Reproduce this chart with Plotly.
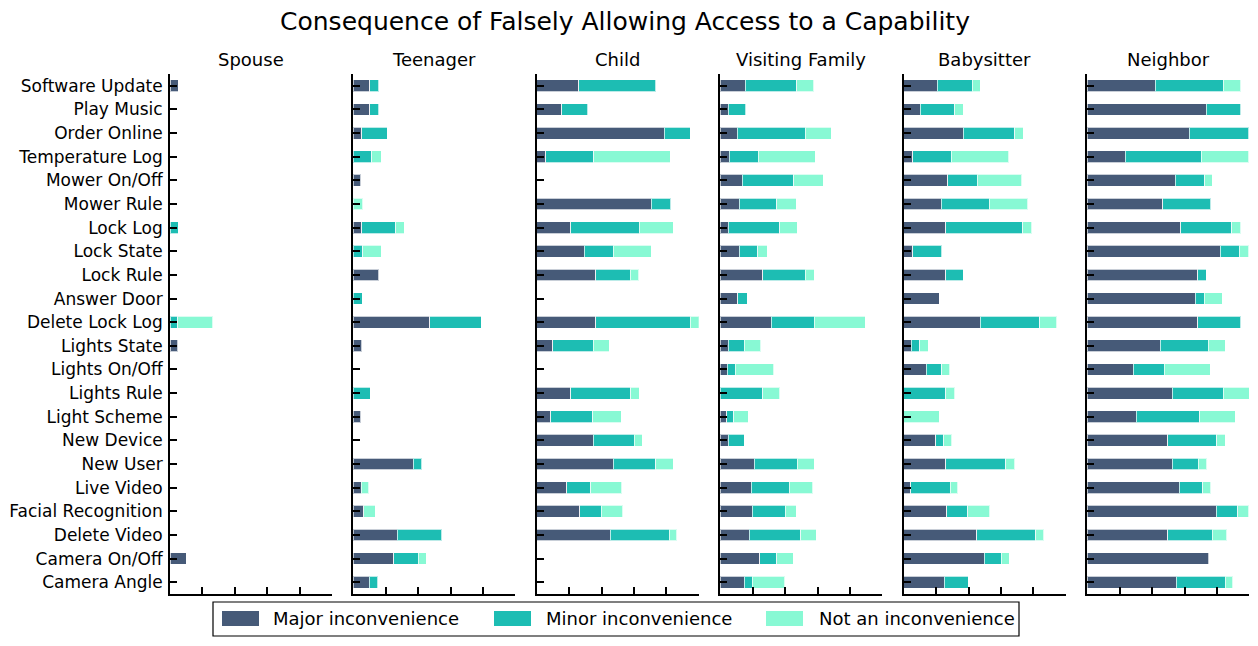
import plotly.graph_objects as go

# page has an 8px body margin: figure covers reference pixels 8..1250 x 8..638
OFF = 8
W, H = 1242, 630

categories = ["Software Update", "Play Music", "Order Online", "Temperature Log",
              "Mower On/Off", "Mower Rule", "Lock Log", "Lock State", "Lock Rule",
              "Answer Door", "Delete Lock Log", "Lights State", "Lights On/Off",
              "Lights Rule", "Light Scheme", "New Device", "New User", "Live Video",
              "Facial Recognition", "Delete Video", "Camera On/Off", "Camera Angle"]

groups = ["Spouse", "Teenager", "Child", "Visiting Family", "Babysitter", "Neighbor"]
levels = ["Major inconvenience", "Minor inconvenience", "Not an inconvenience"]
colors = ["#465a78", "#1dbdb3", "#88f9d4"]

# percent of respondents, order as in categories
spouse_major = [5.1, 0, 0, 0, 0, 0, 0, 0, 0, 0, 0, 4.8, 0, 0, 0, 0, 0, 0, 0, 0, 9.9, 0]
spouse_minor = [0, 0, 0, 0, 0, 0, 5.1, 0, 0, 0, 4.8, 0, 0, 0, 0, 0, 0, 0, 0, 0, 0, 0]
spouse_not = [0, 0, 0, 0, 0, 0, 0, 0, 0, 0, 21.6, 0, 0, 0, 0, 0, 0, 0, 0, 0, 0, 0]

teen_major = [10.3, 10.3, 5.1, 0, 4.5, 0, 5.1, 0, 15.6, 0, 47.3, 5.1, 0, 0, 4.5, 0, 36.9, 4.8, 6.6, 27.2, 24.9, 9.9]
teen_minor = [5.3, 5.3, 15.9, 11.5, 0, 0, 21.2, 5.7, 0, 5.4, 31.7, 0, 0, 10.5, 0, 0, 5.3, 0, 0, 27.3, 15.1, 5.1]
teen_not = [0, 0, 0, 5.9, 0, 5.7, 5.1, 11.7, 0, 0, 0, 0, 0, 0, 0, 0, 0, 4.7, 6.8, 0, 5.1, 0]

child_major = [26.1, 15.6, 78.8, 5.7, 0, 70.6, 21.0, 29.2, 36.6, 0, 36.6, 9.9, 0, 21.0, 8.6, 34.8, 47.1, 18.7, 26.7, 45.5, 0, 0]
child_minor = [47.5, 15.9, 16.0, 29.6, 0, 12.0, 42.2, 17.9, 21.2, 0, 58.3, 24.9, 0, 36.9, 26.1, 25.3, 26.5, 14.6, 13.2, 36.2, 0, 0]
child_not = [0, 0, 0, 47.2, 0, 0, 21.0, 23.5, 5.3, 0, 5.3, 10.1, 0, 5.3, 17.5, 4.9, 10.7, 19.1, 13.3, 4.9, 0, 0]

visit_major = [15.4, 4.8, 10.5, 5.4, 13.6, 11.7, 4.8, 11.7, 26.1, 10.9, 31.5, 4.8, 4.3, 0, 4.1, 4.8, 21.0, 19.0, 19.8, 17.9, 24.5, 14.8]
visit_minor = [31.9, 10.9, 42.0, 17.9, 31.7, 23.3, 31.9, 11.5, 26.4, 5.6, 26.4, 10.1, 4.9, 26.1, 4.3, 10.1, 26.4, 23.6, 20.4, 31.9, 10.5, 4.9]
visit_not = [10.5, 0, 15.9, 35.4, 18.3, 11.9, 10.7, 5.9, 5.4, 0, 31.5, 10.1, 23.9, 10.7, 8.8, 0, 10.5, 14.6, 6.6, 9.3, 9.9, 20.2]

baby_major = [20.8, 10.1, 36.9, 5.7, 27.2, 23.3, 26.1, 5.7, 26.1, 22.0, 47.3, 4.8, 14.0, 0, 0, 19.9, 26.1, 4.5, 26.5, 45.2, 49.6, 25.1]
baby_minor = [21.4, 21.4, 31.5, 23.5, 18.1, 29.4, 47.5, 17.7, 10.7, 0, 36.8, 5.1, 9.6, 26.1, 0, 4.9, 37.0, 24.1, 13.1, 36.4, 10.5, 14.8]
baby_not = [5.2, 5.4, 5.3, 35.6, 27.6, 23.9, 5.4, 0, 0, 0, 10.5, 5.1, 4.9, 5.4, 21.8, 4.9, 5.4, 4.8, 13.6, 4.8, 4.9, 0]

neigh_major = [42.0, 73.5, 62.8, 23.3, 54.3, 46.7, 57.8, 82.1, 68.3, 66.5, 68.3, 44.9, 28.4, 52.5, 30.1, 49.8, 52.5, 56.8, 79.6, 49.8, 74.9, 54.8]
neigh_minor = [42.0, 21.2, 37.0, 47.1, 18.3, 29.6, 31.5, 11.7, 5.1, 5.6, 26.3, 29.8, 19.0, 31.5, 39.3, 30.0, 15.9, 14.6, 13.4, 27.3, 0, 30.2]
neigh_not = [10.7, 0, 0, 29.4, 4.5, 0, 5.3, 6.0, 0, 11.1, 0, 10.3, 28.4, 15.9, 21.9, 5.2, 5.3, 4.7, 6.8, 9.1, 0, 4.9]

panel_data = [
    (spouse_major, spouse_minor, spouse_not),
    (teen_major, teen_minor, teen_not),
    (child_major, child_minor, child_not),
    (visit_major, visit_minor, visit_not),
    (baby_major, baby_minor, baby_not),
    (neigh_major, neigh_minor, neigh_not),
]

FONT = "DejaVu Sans"


def px(x):
    return (x - OFF) / W


def py(y):
    return 1 - (y - OFF) / H


panel_px = [(170, 332), (353.3, 515.3), (536.7, 698.7), (720.3, 882.3), (903.7, 1065.7), (1087.3, 1249.3)]
top_px, bot_px = 74, 594
ydom = [py(bot_px), py(top_px)]

fig = go.Figure()
layout = dict(
    width=W, height=H,
    margin=dict(l=0, r=0, t=0, b=0, autoexpand=False),
    paper_bgcolor="white", plot_bgcolor="white",
    barmode="stack", bargap=0.5, showlegend=False,
    font=dict(family=FONT, size=18, color="black"),
    title=dict(text="Consequence of Falsely Allowing Access to a Capability",
               x=px(625), xanchor="center", y=py(21.5), yanchor="middle",
               font=dict(family=FONT, size=25, color="black")),
)

annotations = []
shapes = []
for i, (grp, vals) in enumerate(zip(groups, panel_data)):
    n = "" if i == 0 else str(i + 1)
    for lvl, col, v in zip(levels, colors, vals):
        fig.add_trace(go.Bar(
            x=[val if val else None for val in v], y=categories, orientation="h",
            name=lvl, marker=dict(color=col, line=dict(color="rgba(255,255,255,0.7)", width=1)),
            xaxis="x" + n, yaxis="y" + n, showlegend=False,
            hovertemplate="%{y}: %{x}<extra>" + grp + " - " + lvl + "</extra>",
        ))
    x0, x1 = panel_px[i]
    layout["xaxis" + n] = dict(
        domain=[px(x0), px(x1)], anchor="y" + n, range=[0, 100],
        tickvals=[0, 20, 40, 60, 80, 100], showticklabels=False,
        ticks="inside", ticklen=7, tickwidth=1.5, tickcolor="black",
        showline=True, linecolor="black", linewidth=1.8,
        showgrid=False, zeroline=False, fixedrange=True, automargin=False,
    )
    layout["yaxis" + n] = dict(
        domain=ydom, anchor="x" + n, type="category",
        categoryorder="array", categoryarray=categories,
        range=[len(categories) - 0.5, -0.5],
        ticks="inside", ticklen=7, tickwidth=1.5, tickcolor="black",
        showline=True, linecolor="black", linewidth=1.8,
        showgrid=False, zeroline=False, showticklabels=(i == 0),
        ticklabelstandoff=2, tickfont=dict(family=FONT, size=17, color="black"),
        fixedrange=True, automargin=False,
    )
    annotations.append(dict(
        text=grp, x=px((x0 + x1) / 2), y=py(59), xref="paper", yref="paper",
        xanchor="center", yanchor="middle", showarrow=False,
        font=dict(family=FONT, size=18, color="black"),
    ))

# legend box
shapes.append(dict(type="rect", xref="paper", yref="paper",
                   x0=px(213), x1=px(1019), y0=py(636), y1=py(602),
                   line=dict(color="black", width=1.2), fillcolor="white"))
sw_x = [222, 494, 766]
tx_x = [271, 544, 817]
for lvl, col, sx, tx in zip(levels, colors, sw_x, tx_x):
    shapes.append(dict(type="rect", xref="paper", yref="paper",
                       x0=px(sx), x1=px(sx + 37), y0=py(626), y1=py(611),
                       line=dict(width=0), fillcolor=col))
    annotations.append(dict(
        text=lvl, x=px(tx), y=py(618.5), xref="paper", yref="paper",
        xanchor="left", yanchor="middle", showarrow=False,
        font=dict(family=FONT, size=18, color="black"),
    ))

layout["annotations"] = annotations
layout["shapes"] = shapes
fig.update_layout(**layout)
fig.write_html("out.html")
